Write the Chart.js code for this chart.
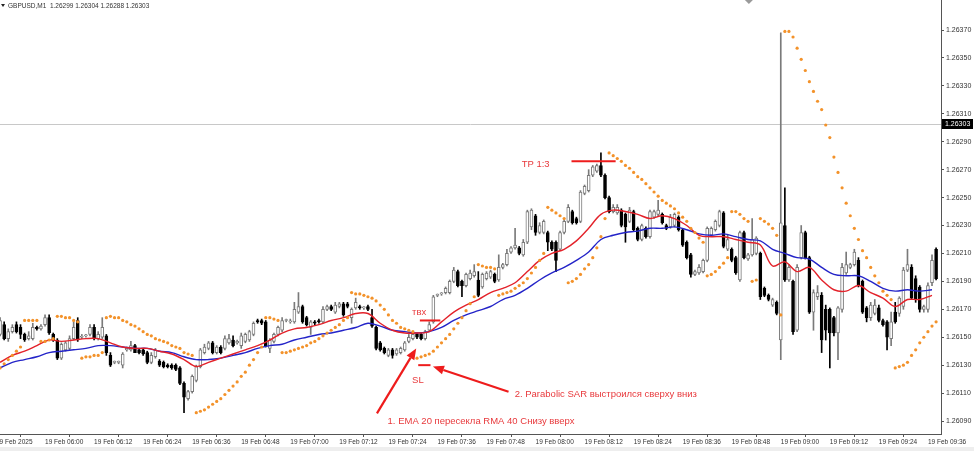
<!DOCTYPE html>
<html>
<head>
<meta charset="utf-8">
<script src="https://cdn.jsdelivr.net/npm/chart.js@4.4.1/dist/chart.umd.min.js"></script>
<style>
  html, body { margin: 0; padding: 0; background: #fff; }
  #wrap { width: 974px; height: 451px; }
</style>
</head>
<body>
<div id="wrap"><canvas id="gbpChart" width="974" height="451"></canvas></div>
<script>
// GBPUSD M1, 19 Feb 2025, one candle per minute starting 05:49 (minute 1 = 05:49, minute 0 = 05:48)
const firstMinute = 1;

const opens = [
1.26152,1.26159,1.26149,1.26154,1.26159,1.26157,1.26152,1.26149,1.26149,1.26157,
1.26156,1.26159,1.26164,1.26152,1.26148,1.26135,1.26141,1.26142,1.26149,1.26162,
1.26150,1.26151,1.26152,1.26157,1.26149,1.26150,1.26151,1.26137,1.26132,1.26132,
1.26130,1.26141,1.26141,1.26144,1.26141,1.26141,1.26139,1.26132,1.26136,1.26133,
1.26132,1.26130,1.26130,1.26130,1.26128,1.26117,1.26106,1.26111,1.26119,1.26129,
1.26139,1.26142,1.26146,1.26139,1.26143,1.26142,1.26146,1.26148,1.26146,1.26144,
1.26147,1.26148,1.26152,1.26162,1.26162,1.26161,1.26142,1.26147,1.26152,1.26155,
1.26162,1.26161,1.26161,1.26168,1.26172,1.26164,1.26157,1.26161,1.26162,1.26161,
1.26170,1.26172,1.26168,1.26172,1.26174,1.26174,1.26164,1.26171,1.26172,1.26171,
1.26172,1.26164,1.26157,1.26146,1.26142,1.26137,1.26141,1.26138,1.26139,1.26141,
1.26147,1.26149,1.26152,1.26152,1.26149,1.26155,1.26161,1.26180,1.26181,1.26182,
1.26182,1.26190,1.26197,1.26190,1.26187,1.26192,1.26194,1.26191,1.26186,1.26192,
1.26193,1.26195,1.26191,1.26200,1.26202,1.26211,1.26214,1.26214,1.26209,1.26218,
1.26229,1.26237,1.26225,1.26225,1.26225,1.26218,1.26218,1.26213,1.26225,1.26233,
1.26240,1.26235,1.26233,1.26253,1.26255,1.26266,1.26269,1.26273,1.26266,1.26250,
1.26240,1.26239,1.26241,1.26238,1.26233,1.26240,1.26228,1.26220,1.26228,1.26222,
1.26236,1.26238,1.26238,1.26230,1.26229,1.26230,1.26236,1.26227,1.26218,1.26209,
1.26195,1.26196,1.26197,1.26205,1.26223,1.26227,1.26230,1.26239,1.26213,1.26213,
1.26207,1.26191,1.26225,1.26206,1.26209,1.26210,1.26210,1.26185,1.26180,1.26173,
1.26175,1.26148,1.26230,1.26191,1.26190,1.26155,1.26207,1.26225,1.26207,1.26168,
1.26179,1.26180,1.26170,1.26170,1.26164,1.26153,1.26170,1.26196,1.26200,1.26202,
1.26205,1.26190,1.26171,1.26164,1.26167,1.26171,1.26162,1.26161,1.26149,1.26168,
1.26167,1.26172,1.26198,1.26200,1.26192,1.26186,1.26170,1.26170,1.26189,1.26213
];
const highs = [
1.26164,1.26161,1.26156,1.26159,1.26161,1.26159,1.26153,1.26154,1.26160,1.26158,
1.26159,1.26166,1.26166,1.26153,1.26149,1.26146,1.26147,1.26151,1.26161,1.26164,
1.26152,1.26152,1.26159,1.26159,1.26154,1.26164,1.26152,1.26139,1.26133,1.26133,
1.26139,1.26143,1.26147,1.26145,1.26142,1.26142,1.26140,1.26139,1.26142,1.26134,
1.26133,1.26131,1.26131,1.26131,1.26129,1.26118,1.26112,1.26123,1.26130,1.26142,
1.26145,1.26147,1.26147,1.26144,1.26144,1.26151,1.26152,1.26151,1.26148,1.26153,
1.26153,1.26155,1.26161,1.26163,1.26163,1.26162,1.26149,1.26153,1.26158,1.26164,
1.26163,1.26163,1.26175,1.26182,1.26173,1.26165,1.26162,1.26162,1.26163,1.26172,
1.26173,1.26173,1.26175,1.26175,1.26175,1.26175,1.26171,1.26178,1.26173,1.26172,
1.26173,1.26170,1.26158,1.26147,1.26143,1.26142,1.26142,1.26142,1.26143,1.26147,
1.26152,1.26153,1.26153,1.26153,1.26155,1.26161,1.26180,1.26181,1.26182,1.26186,
1.26191,1.26200,1.26198,1.26191,1.26196,1.26198,1.26202,1.26197,1.26196,1.26197,
1.26198,1.26196,1.26209,1.26203,1.26213,1.26215,1.26228,1.26215,1.26220,1.26241,
1.26242,1.26238,1.26232,1.26234,1.26226,1.26219,1.26219,1.26226,1.26234,1.26245,
1.26241,1.26236,1.26255,1.26259,1.26270,1.26273,1.26274,1.26282,1.26267,1.26251,
1.26245,1.26245,1.26242,1.26239,1.26243,1.26241,1.26229,1.26231,1.26229,1.26241,
1.26241,1.26248,1.26239,1.26231,1.26238,1.26239,1.26237,1.26228,1.26219,1.26210,
1.26198,1.26202,1.26206,1.26229,1.26229,1.26234,1.26241,1.26240,1.26223,1.26214,
1.26208,1.26226,1.26226,1.26210,1.26235,1.26222,1.26211,1.26186,1.26181,1.26178,
1.26176,1.26368,1.26257,1.26202,1.26191,1.26202,1.26230,1.26226,1.26208,1.26184,
1.26187,1.26182,1.26173,1.26171,1.26165,1.26172,1.26203,1.26211,1.26203,1.26213,
1.26207,1.26191,1.26172,1.26175,1.26177,1.26173,1.26163,1.26162,1.26168,1.26175,
1.26179,1.26200,1.26213,1.26202,1.26194,1.26187,1.26173,1.26189,1.26209,1.26214
];
const lows = [
1.26151,1.26148,1.26147,1.26153,1.26153,1.26149,1.26147,1.26148,1.26148,1.26155,
1.26155,1.26158,1.26152,1.26147,1.26134,1.26134,1.26140,1.26141,1.26148,1.26147,
1.26149,1.26150,1.26151,1.26148,1.26148,1.26149,1.26137,1.26129,1.26131,1.26131,
1.26128,1.26140,1.26140,1.26139,1.26138,1.26137,1.26131,1.26131,1.26135,1.26129,
1.26128,1.26128,1.26127,1.26126,1.26116,1.26096,1.26105,1.26110,1.26118,1.26128,
1.26138,1.26141,1.26138,1.26138,1.26138,1.26141,1.26145,1.26143,1.26145,1.26142,
1.26146,1.26147,1.26151,1.26160,1.26159,1.26143,1.26139,1.26146,1.26151,1.26154,
1.26161,1.26160,1.26160,1.26167,1.26160,1.26158,1.26152,1.26159,1.26160,1.26160,
1.26169,1.26169,1.26167,1.26171,1.26165,1.26171,1.26160,1.26170,1.26170,1.26170,
1.26169,1.26157,1.26141,1.26140,1.26138,1.26136,1.26135,1.26137,1.26138,1.26140,
1.26146,1.26148,1.26149,1.26148,1.26148,1.26154,1.26160,1.26179,1.26180,1.26181,
1.26181,1.26189,1.26186,1.26179,1.26186,1.26191,1.26193,1.26179,1.26185,1.26191,
1.26192,1.26189,1.26190,1.26199,1.26201,1.26210,1.26213,1.26209,1.26208,1.26217,
1.26227,1.26223,1.26224,1.26224,1.26212,1.26212,1.26197,1.26212,1.26224,1.26232,
1.26231,1.26231,1.26232,1.26252,1.26254,1.26265,1.26268,1.26265,1.26249,1.26239,
1.26239,1.26238,1.26229,1.26218,1.26232,1.26226,1.26219,1.26219,1.26221,1.26221,
1.26235,1.26237,1.26231,1.26227,1.26228,1.26229,1.26226,1.26215,1.26206,1.26193,
1.26194,1.26195,1.26196,1.26204,1.26222,1.26226,1.26229,1.26214,1.26212,1.26204,
1.26195,1.26190,1.26206,1.26205,1.26208,1.26209,1.26177,1.26179,1.26176,1.26172,
1.26166,1.26134,1.26190,1.26190,1.26152,1.26154,1.26206,1.26206,1.26167,1.26155,
1.26177,1.26139,1.26148,1.26128,1.26151,1.26134,1.26168,1.26195,1.26199,1.26201,
1.26186,1.26167,1.26161,1.26162,1.26166,1.26161,1.26158,1.26141,1.26144,1.26160,
1.26165,1.26170,1.26197,1.26177,1.26175,1.26168,1.26168,1.26168,1.26187,1.26191
];
const closes = [
1.26162,1.26149,1.26154,1.26157,1.26154,1.26152,1.26148,1.26151,1.26157,1.26156,
1.26158,1.26164,1.26153,1.26148,1.26135,1.26145,1.26146,1.26149,1.26157,1.26148,
1.26150,1.26151,1.26157,1.26149,1.26152,1.26157,1.26139,1.26130,1.26132,1.26132,
1.26138,1.26142,1.26144,1.26139,1.26139,1.26138,1.26132,1.26137,1.26141,1.26130,
1.26129,1.26129,1.26128,1.26127,1.26117,1.26107,1.26111,1.26122,1.26129,1.26141,
1.26143,1.26146,1.26139,1.26143,1.26139,1.26149,1.26149,1.26144,1.26147,1.26151,
1.26152,1.26154,1.26160,1.26161,1.26160,1.26144,1.26148,1.26152,1.26157,1.26162,
1.26162,1.26161,1.26170,1.26172,1.26161,1.26159,1.26161,1.26160,1.26161,1.26170,
1.26172,1.26170,1.26173,1.26174,1.26166,1.26172,1.26170,1.26175,1.26171,1.26171,
1.26170,1.26158,1.26142,1.26141,1.26139,1.26141,1.26137,1.26141,1.26142,1.26146,
1.26150,1.26152,1.26150,1.26149,1.26154,1.26159,1.26179,1.26180,1.26181,1.26185,
1.26190,1.26198,1.26187,1.26187,1.26195,1.26196,1.26197,1.26180,1.26195,1.26196,
1.26197,1.26190,1.26200,1.26202,1.26210,1.26214,1.26216,1.26210,1.26218,1.26240,
1.26241,1.26225,1.26230,1.26233,1.26218,1.26213,1.26205,1.26225,1.26233,1.26243,
1.26232,1.26232,1.26254,1.26258,1.26266,1.26272,1.26273,1.26266,1.26250,1.26240,
1.26243,1.26243,1.26230,1.26229,1.26241,1.26227,1.26220,1.26230,1.26222,1.26240,
1.26240,1.26241,1.26232,1.26228,1.26236,1.26238,1.26227,1.26216,1.26207,1.26195,
1.26197,1.26200,1.26205,1.26228,1.26228,1.26233,1.26240,1.26215,1.26220,1.26205,
1.26196,1.26225,1.26207,1.26209,1.26220,1.26221,1.26179,1.26180,1.26177,1.26177,
1.26167,1.26232,1.26191,1.26200,1.26154,1.26200,1.26225,1.26207,1.26168,1.26182,
1.26182,1.26148,1.26155,1.26153,1.26153,1.26171,1.26200,1.26202,1.26202,1.26211,
1.26187,1.26168,1.26164,1.26173,1.26173,1.26162,1.26159,1.26150,1.26161,1.26161,
1.26178,1.26198,1.26202,1.26178,1.26177,1.26170,1.26172,1.26187,1.26205,1.26192
];

// Parabolic SAR, one dot per candle
const sar = [
1.26128,1.26131,1.26134,1.26137,1.26140,1.26143,
1.26162,1.26162,1.26162,1.26162,
1.26147,1.26147,1.26148,1.26149,
1.26165,1.26165,1.26164,1.26164,1.26162,1.26161,
1.26135,1.26136,1.26136,1.26137,1.26137,1.26139,
1.26164,1.26165,1.26164,1.26164,1.26162,1.26161,1.26159,1.26158,1.26156,1.26154,1.26152,1.26151,1.26149,1.26148,1.26147,1.26146,1.26144,1.26143,1.26142,1.26139,1.26138,1.26137,
1.26096,1.26097,1.26098,1.26100,1.26102,1.26104,1.26106,1.26109,1.26112,1.26115,1.26118,1.26122,1.26125,1.26130,1.26134,1.26139,1.26143,
1.26164,1.26164,1.26163,1.26162,
1.26139,1.26139,1.26140,1.26141,1.26142,1.26143,1.26144,1.26146,1.26147,1.26149,1.26151,1.26153,1.26155,1.26157,1.26159,1.26162,1.26164,
1.26182,1.26181,1.26181,1.26180,1.26179,1.26178,1.26176,1.26173,1.26170,1.26166,1.26162,1.26160,1.26157,1.26156,1.26155,1.26154,
1.26135,1.26136,1.26137,1.26138,1.26140,1.26143,1.26146,1.26149,1.26152,1.26156,1.26160,1.26164,1.26169,1.26174,1.26179,
1.26202,1.26201,1.26200,1.26200,1.26199,
1.26180,1.26181,1.26182,1.26183,1.26185,1.26187,1.26189,1.26192,1.26196,1.26200,1.26205,1.26210,
1.26243,1.26241,1.26239,1.26237,1.26235,
1.26189,1.26190,1.26192,1.26195,1.26199,1.26202,1.26207,1.26214,1.26222,1.26235,
1.26282,1.26280,1.26278,1.26276,1.26273,1.26271,1.26268,1.26265,1.26263,1.26260,1.26257,1.26254,1.26251,1.26248,1.26246,1.26244,1.26242,1.26239,1.26236,1.26233,1.26228,1.26225,1.26221,1.26218,
1.26194,1.26195,1.26197,1.26200,1.26203,1.26207,
1.26240,1.26240,1.26238,1.26235,1.26233,
1.26190,1.26191,
1.26235,1.26233,1.26231,1.26228,1.26223,
1.26166,
1.26369,1.26369,1.26365,1.26357,1.26349,1.26341,1.26333,1.26326,1.26319,1.26313,1.26302,1.26293,1.26279,1.26268,1.26257,1.26246,1.26237,1.26228,1.26220,1.26212,1.26207,1.26200,1.26194,1.26189,1.26183,1.26180,1.26177,
1.26128,1.26129,1.26130,1.26132,1.26137,1.26141,1.26146,1.26150,1.26154,1.26158,1.26161
];

// EMA 20 (red) and RMA 40 (blue), read every 3rd candle
const lineFirstMinute = 1;
const lineStep = 3;
const ema20 = [
1.26132,1.26137,1.26140,1.26144,1.26148,1.26147,1.26148,1.26149,1.26149,1.26146,1.26143,1.26142,1.26142,1.26140,1.26138,1.26134,1.26129,1.26132,1.26135,1.26138,
1.26141,1.26144,1.26148,1.26153,1.26156,1.26157,1.26159,1.26162,1.26164,1.26167,1.26167,1.26160,1.26155,1.26153,1.26153,1.26154,1.26161,1.26168,1.26173,1.26177,
1.26182,1.26185,1.26189,1.26197,1.26205,1.26210,1.26213,1.26219,1.26228,1.26238,1.26241,1.26240,1.26238,1.26235,1.26237,1.26235,1.26230,1.26223,1.26222,
1.26222,1.26220,1.26218,1.26216,1.26201,1.26204,1.26197,1.26200,1.26191,1.26184,1.26183,1.26187,1.26182,1.26178,1.26172,1.26177,1.26177,1.26180
];
const rma40 = [
1.26128,1.26132,1.26134,1.26136,1.26139,1.26140,1.26141,1.26142,1.26144,1.26144,1.26143,1.26142,1.26142,1.26140,1.26139,1.26136,1.26134,1.26134,1.26135,1.26137,
1.26139,1.26142,1.26144,1.26145,1.26148,1.26150,1.26152,1.26153,1.26155,1.26157,1.26160,1.26158,1.26155,1.26154,1.26153,1.26154,1.26157,1.26162,1.26166,1.26169,
1.26172,1.26177,1.26180,1.26185,1.26191,1.26196,1.26200,1.26205,1.26211,1.26220,1.26223,1.26225,1.26226,1.26228,1.26228,1.26229,1.26227,1.26224,1.26223,
1.26224,1.26222,1.26220,1.26219,1.26213,1.26210,1.26207,1.26206,1.26200,1.26195,1.26194,1.26194,1.26190,1.26185,1.26183,1.26184,1.26183,1.26184
];

const tickMinutes = [0,12,24,36,48,60,72,84,96,108,120,132,144,156,168,180,192,204,216,228];
const tickLabels = ["19 Feb 2025","19 Feb 06:00","19 Feb 06:12","19 Feb 06:24","19 Feb 06:36","19 Feb 06:48",
  "19 Feb 07:00","19 Feb 07:12","19 Feb 07:24","19 Feb 07:36","19 Feb 07:48","19 Feb 08:00","19 Feb 08:12",
  "19 Feb 08:24","19 Feb 08:36","19 Feb 08:48","19 Feb 09:00","19 Feb 09:12","19 Feb 09:24","19 Feb 09:36"];
const priceTicks = [1.2609,1.2611,1.2613,1.2615,1.2617,1.2619,1.2621,1.2623,1.2625,1.2627,1.2629,1.2631,1.2633,1.2635,1.2637];

const header = "GBPUSD,M1  1.26299 1.26304 1.26288 1.26303";
const bidPrice = 1.26303;

// hand drawn trade notes (minute, price)
const tpLine = { from: 140.8, to: 151.6, price: 1.26276 };
const entryLine = { from: 103.7, to: 108.7, price: 1.26162 };
const slLine = { from: 103.3, to: 106.3, price: 1.26130 };
const notes = [
  { text: "TP 1:3", at: 128.6, price: 1.26274 },
  { text: "твх", at: 101.8, price: 1.26168 },
  { text: "SL", at: 101.8, price: 1.26119 },
  { text: "1. EMA 20 пересекла RMA 40 Снизу вверх", at: 95.8, price: 1.26090 },
  { text: "2. Parabolic SAR выстроился сверху вниз", at: 126.9, price: 1.26109 }
];
const arrows = [
  { from: [93.2, 1.260955], to: [102.8, 1.26142] },
  { from: [125.4, 1.26111], to: [106.9, 1.26129] }
];

const FONT = '"Liberation Sans", Arial, sans-serif';
const noteRed = "#e8393c";
const upColor = "#7a7a7a";

const isUp = opens.map((o, i) => closes[i] >= o);
const wickData = lows.map((l, i) => ({ x: firstMinute + i, y: [l, highs[i]] }));
const bodyData = opens.map((o, i) => ({ x: firstMinute + i, y: [o, closes[i]] }));
const sarData = sar.map((v, i) => ({ x: firstMinute + i, y: v }));
const emaData = ema20.map((v, i) => ({ x: lineFirstMinute + i * lineStep, y: v }));
const rmaData = rma40.map((v, i) => ({ x: lineFirstMinute + i * lineStep, y: v }));

function drawArrow(ctx, x1, y1, x2, y2) {
  const a = Math.atan2(y2 - y1, x2 - x1);
  const len = 11, half = 4.5;
  const bx = x2 - len * Math.cos(a), by = y2 - len * Math.sin(a);
  ctx.beginPath();
  ctx.moveTo(x1, y1);
  ctx.lineTo(bx, by);
  ctx.stroke();
  ctx.beginPath();
  ctx.moveTo(x2, y2);
  ctx.lineTo(bx + half * Math.sin(a), by - half * Math.cos(a));
  ctx.lineTo(bx - half * Math.sin(a), by + half * Math.cos(a));
  ctx.closePath();
  ctx.fill();
}

const terminalLook = {
  id: "terminalLook",
  beforeDatasetsDraw(chart) {
    const { ctx, chartArea: a, scales: { y } } = chart;
    const py = Math.round(y.getPixelForValue(bidPrice)) + 0.5;
    ctx.save();
    ctx.strokeStyle = "#c8c8c8";
    ctx.lineWidth = 1;
    ctx.beginPath();
    ctx.moveTo(a.left, py);
    ctx.lineTo(a.right, py);
    ctx.stroke();
    ctx.restore();
  },
  afterDraw(chart) {
    const { ctx, chartArea: a, scales: { x, y } } = chart;
    ctx.save();

    // bottom strip of the terminal window
    ctx.fillStyle = "#eeeeee";
    ctx.fillRect(0, 447, chart.width, 4);

    // bid price label on the axis
    const py = Math.round(y.getPixelForValue(bidPrice));
    ctx.fillStyle = "#000";
    ctx.fillRect(a.right + 1, py - 5, 31, 10);
    ctx.fillStyle = "#fff";
    ctx.font = "7px " + FONT;
    ctx.textBaseline = "middle";
    ctx.textAlign = "left";
    ctx.fillText(bidPrice.toFixed(5), a.right + 4, py + 0.5);

    // symbol header
    ctx.fillStyle = "#222";
    ctx.beginPath();
    ctx.moveTo(1, 4); ctx.lineTo(5, 4); ctx.lineTo(3, 7); ctx.closePath(); ctx.fill();
    ctx.font = "6.5px " + FONT;
    ctx.fillStyle = "#333";
    ctx.fillText(header, 8, 6);

    // chart shift marker at the top
    const sx = x.getPixelForValue(184.2);
    ctx.fillStyle = "#9a9a9a";
    ctx.beginPath();
    ctx.moveTo(sx - 4, 0); ctx.lineTo(sx + 4, 0); ctx.lineTo(sx, 4); ctx.closePath(); ctx.fill();

    // trade notes
    ctx.strokeStyle = "#ee1c1c";
    ctx.fillStyle = "#ee1c1c";
    ctx.lineWidth = 2;
    [tpLine, entryLine, slLine].forEach(l => {
      const ly = y.getPixelForValue(l.price);
      ctx.beginPath();
      ctx.moveTo(x.getPixelForValue(l.from), ly);
      ctx.lineTo(x.getPixelForValue(l.to), ly);
      ctx.stroke();
    });
    ctx.lineWidth = 2.2;
    arrows.forEach(ar => {
      drawArrow(ctx,
        x.getPixelForValue(ar.from[0]), y.getPixelForValue(ar.from[1]),
        x.getPixelForValue(ar.to[0]), y.getPixelForValue(ar.to[1]));
    });
    ctx.fillStyle = noteRed;
    ctx.font = "9.5px " + FONT;
    ctx.textAlign = "left";
    ctx.textBaseline = "middle";
    notes.forEach(n => ctx.fillText(n.text, x.getPixelForValue(n.at), y.getPixelForValue(n.price)));
    ctx.restore();
  }
};

Chart.defaults.font.family = FONT;

new Chart(document.getElementById("gbpChart"), {
  type: "bar",
  data: {
    datasets: [
      {
        type: "line", label: "Parabolic SAR", data: sarData, order: 0,
        showLine: false, pointRadius: 1.6, pointBorderWidth: 0,
        pointBackgroundColor: "#f3922a"
      },
      {
        type: "line", label: "EMA 20", data: emaData, order: 1,
        borderColor: "#e3222a", borderWidth: 1.4, pointRadius: 0, tension: 0.35
      },
      {
        type: "line", label: "RMA 40", data: rmaData, order: 2,
        borderColor: "#2424c8", borderWidth: 1.4, pointRadius: 0, tension: 0.35
      },
      {
        label: "body", data: bodyData, order: 3, grouped: false,
        barThickness: 3, minBarLength: 1, borderSkipped: false, borderWidth: 1,
        backgroundColor: isUp.map(u => u ? "#ffffff" : "#000000"),
        borderColor: isUp.map(u => u ? upColor : "#000000")
      },
      {
        label: "wick", data: wickData, order: 4, grouped: false,
        barThickness: 1, minBarLength: 1,
        backgroundColor: isUp.map(u => u ? upColor : "#000000")
      }
    ]
  },
  options: {
    responsive: false,
    animation: false,
    devicePixelRatio: 1,
    layout: { padding: 0, autoPadding: false },
    plugins: { legend: { display: false }, tooltip: { enabled: false } },
    scales: {
      x: {
        type: "linear", min: 0.98, max: 231.2, offset: false,
        afterBuildTicks: s => { s.ticks = tickMinutes.map(v => ({ value: v })); },
        afterFit: s => { s.height = 17; s.paddingLeft = 0; s.paddingRight = 0; },
        ticks: {
          align: "start", autoSkip: false, maxRotation: 0, minRotation: 0, padding: 1,
          color: "#333", font: { size: 6.5 },
          callback: (v, i) => tickLabels[i]
        },
        grid: { drawOnChartArea: false, drawTicks: true, tickLength: 3, color: "#555" },
        border: { display: true, color: "#555" }
      },
      y: {
        type: "linear", position: "right", min: 1.260807, max: 1.263915,
        afterBuildTicks: s => { s.ticks = priceTicks.map(v => ({ value: v })); },
        afterFit: s => { s.width = 33; s.paddingTop = 0; s.paddingBottom = 0; },
        ticks: {
          padding: 2, color: "#333", font: { size: 7 },
          callback: v => v.toFixed(5)
        },
        grid: { drawOnChartArea: false, drawTicks: true, tickLength: 3, color: "#555" },
        border: { display: true, color: "#555" }
      }
    }
  },
  plugins: [terminalLook]
});
</script>
</body>
</html>
